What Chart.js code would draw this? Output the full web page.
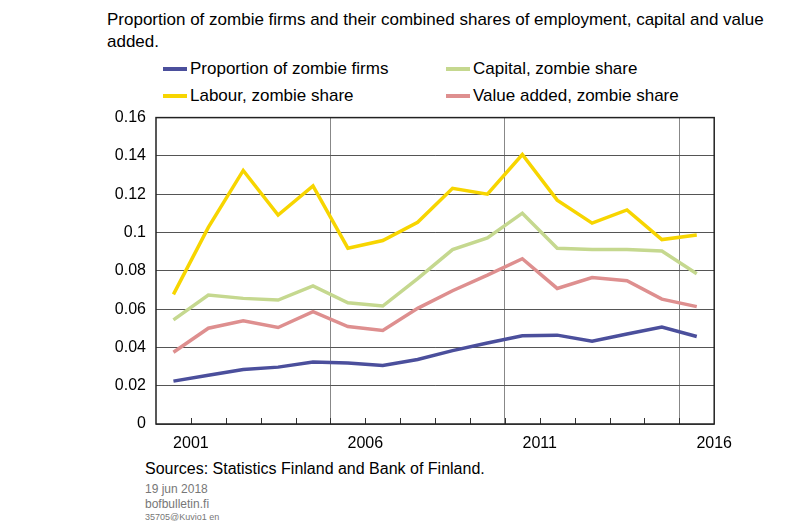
<!DOCTYPE html>
<html><head><meta charset="utf-8">
<script src="https://cdn.jsdelivr.net/npm/chart.js@4"></script>
<style>
body{margin:0;width:800px;height:523px;background:#fff;font-family:"Liberation Sans",Arial,sans-serif;position:relative;overflow:hidden}
.t{position:absolute;color:#000}
#title{left:107px;top:9px;font-size:17px;line-height:22px;width:675px}
.leg{position:absolute;font-size:17px;display:flex;align-items:center}
.leg span{display:inline-block;width:24px;height:4px;margin-right:3px}
#wrap{position:absolute;left:100px;top:98px;width:642px;height:362px}
</style></head><body>
<div id="title" class="t">Proportion of zombie firms and their combined shares of employment, capital and value added.</div>
<div class="leg" style="left:163px;top:59px"><span style="background:#4b4f9c"></span>Proportion of zombie firms</div>
<div class="leg" style="left:446px;top:59px"><span style="background:#c5d88f"></span>Capital, zombie share</div>
<div class="leg" style="left:163px;top:86px"><span style="background:#f7d500"></span>Labour, zombie share</div>
<div class="leg" style="left:446px;top:86px"><span style="background:#de8f8f"></span>Value added, zombie share</div>
<div id="wrap"><canvas id="c"></canvas></div>
<div class="t" style="left:145px;top:460px;font-size:16px">Sources: Statistics Finland and Bank of Finland.</div>
<div class="t" style="left:145px;top:482px;font-size:12px;color:#777">19 jun 2018</div>
<div class="t" style="left:145px;top:497px;font-size:12px;color:#777">bofbulletin.fi</div>
<div class="t" style="left:145px;top:512px;font-size:9px;color:#777">35705@Kuvio1 en</div>
<script>
const years=[2000,2001,2002,2003,2004,2005,2006,2007,2008,2009,2010,2011,2012,2013,2014,2015];
const tickLabels={1:"2001",6:"2006",11:"2011",16:"2016"};
const firms=[0.0224,0.0255,0.0285,0.0297,0.0324,0.0319,0.0306,0.0337,0.0383,0.0423,0.0461,0.0464,0.0432,0.0470,0.0506,0.0457];
const labour=[0.0677,0.1027,0.1324,0.1091,0.1243,0.0918,0.0958,0.1053,0.1231,0.1200,0.1407,0.1169,0.1049,0.1118,0.0963,0.0987];
const capital=[0.0544,0.0673,0.0656,0.0647,0.0721,0.0633,0.0616,0.0759,0.0911,0.0972,0.1101,0.0918,0.0911,0.0911,0.0903,0.0785];
const valueAdded=[0.0375,0.0500,0.0539,0.0504,0.0587,0.0509,0.0488,0.0604,0.0696,0.0777,0.0863,0.0708,0.0765,0.0748,0.0652,0.0613];
const pts=a=>a.map((v,i)=>({x:i+0.5,y:v}));
const ds=(d,c)=>({data:pts(d),borderColor:c,borderWidth:3.5,pointRadius:0,tension:0,fill:false});
const tickPlugin={id:'tk',afterDatasetsDraw(ch){const x=ch.scales.x,ctx=ch.ctx,b=ch.chartArea.bottom;ctx.save();ctx.strokeStyle='#333';ctx.lineWidth=1;for(let i=1;i<16;i++){const p=Math.round(x.getPixelForValue(i))+0.5;ctx.beginPath();ctx.moveTo(p,b);ctx.lineTo(p,b-6);ctx.stroke();}
ctx.strokeStyle='#222';ctx.lineWidth=1.5;const a=ch.chartArea;ctx.strokeRect(a.left,a.top,a.right-a.left,a.bottom-a.top);ctx.restore();}};
new Chart(document.getElementById('c'),{type:'line',
data:{datasets:[ds(valueAdded,'#de8f8f'),ds(firms,'#4b4f9c'),ds(capital,'#c5d88f'),ds(labour,'#f7d500')]},
options:{responsive:true,maintainAspectRatio:false,animation:false,layout:{padding:{top:0,right:0}},
plugins:{legend:{display:false},tooltip:{enabled:false}},
scales:{
x:{type:'linear',min:0,max:16,afterFit(s){s.height=36;},border:{display:false},
 grid:{drawTicks:false,color:c=>[5,10,15].includes(c.tick&&c.tick.value)?'#888':'rgba(0,0,0,0)',lineWidth:1},
 ticks:{stepSize:1,autoSkip:false,maxRotation:0,padding:10,color:'#000',font:{size:16,family:'"Liberation Sans",Arial'},callback:v=>tickLabels[v]||''}},
y:{min:0,max:0.16,afterFit(s){s.width=56;},border:{display:false},
 grid:{drawTicks:false,color:'#555',lineWidth:1},
 ticks:{stepSize:0.02,padding:10,color:'#000',font:{size:16,family:'"Liberation Sans",Arial'},callback:v=>String(Math.round(v*100)/100)}}}},
plugins:[tickPlugin]});
</script></body></html>
